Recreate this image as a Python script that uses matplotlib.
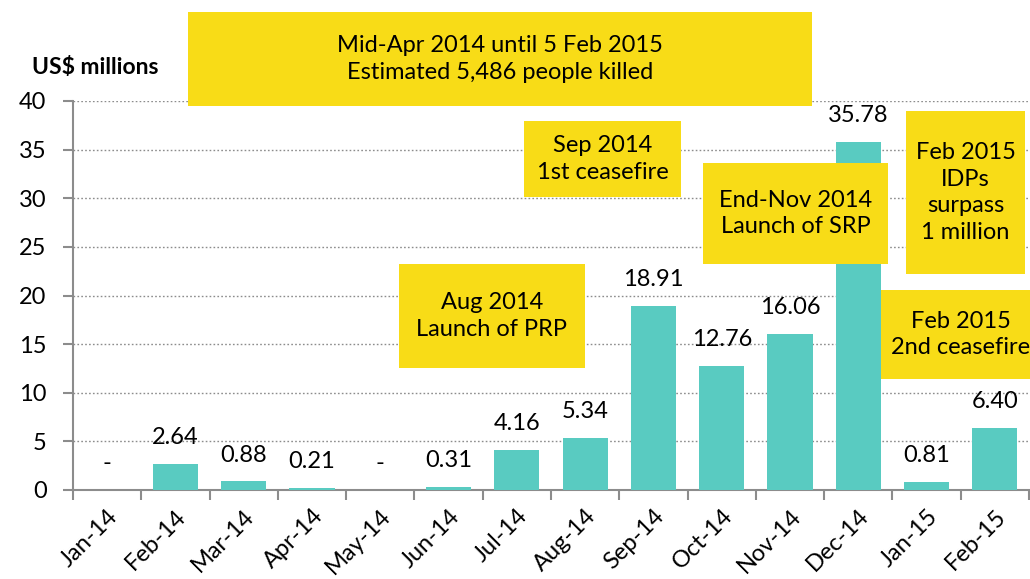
import matplotlib
matplotlib.use("Agg")
import matplotlib.pyplot as plt
from matplotlib.patches import Rectangle
import numpy as np

months = ["Jan-14", "Feb-14", "Mar-14", "Apr-14", "May-14", "Jun-14", "Jul-14",
          "Aug-14", "Sep-14", "Oct-14", "Nov-14", "Dec-14", "Jan-15", "Feb-15"]
values = [0, 2.64, 0.88, 0.21, 0, 0.31, 4.16, 5.34, 18.91, 12.76, 16.06, 35.78, 0.81, 6.40]
labels = ["-", "2.64", "0.88", "0.21", "-", "0.31", "4.16", "5.34", "18.91",
          "12.76", "16.06", "35.78", "0.81", "6.40"]
yticks = [0, 5, 10, 15, 20, 25, 30, 35, 40]

notes = [
    ("Mid-Apr 2014 until 5 Feb 2015\nEstimated 5,486 people killed", (188, 12, 812, 106)),
    ("Sep 2014\n1st ceasefire", (524, 121, 681, 197)),
    ("End-Nov 2014\nLaunch of SRP", (703, 163, 888, 264)),
    ("Feb 2015\nIDPs\nsurpass\n1 million", (906, 111, 1025, 274)),
    ("Aug 2014\nLaunch of PRP", (399, 264, 585, 368)),
    ("Feb 2015\n2nd ceasefire", (881, 290, 1040, 379)),
]

FONT = "Lato"
plt.rcParams["font.family"] = [FONT, "DejaVu Sans"]
FS = 17

W, H = 1030, 579
fig = plt.figure(figsize=(W / 100, H / 100), dpi=100)
ax = fig.add_axes([73 / W, 1 - 490 / H, (1029 - 73) / W, (490 - 101) / H])

x = np.arange(len(months))
ax.bar(x, values, width=0.66, color="#59CBC1", zorder=3)
ax.set_xlim(-0.5, len(months) - 0.5)
ax.set_ylim(0, 40)
ax.set_yticks(yticks)
ax.set_yticklabels([str(v) for v in yticks], fontsize=FS)
ax.yaxis.grid(True, linestyle=(0, (1.2, 1.6)), color="#8c8c8c", linewidth=1.0, zorder=0)
ax.tick_params(axis="y", length=7, width=1.5, color="#8c8c8c", pad=12)

ax.set_xticks(x)
ax.set_xticklabels(months, rotation=45, ha="right", va="top", rotation_mode="anchor", fontsize=FS)
ax.tick_params(axis="x", which="major", length=0, pad=11)
ax.set_xticks(np.arange(-0.5, len(months), 1), minor=True)
ax.tick_params(axis="x", which="minor", length=7, width=1.5, color="#8c8c8c")

for s in ["top", "right"]:
    ax.spines[s].set_visible(False)
for s in ["left", "bottom"]:
    ax.spines[s].set_color("#8c8c8c")
    ax.spines[s].set_linewidth(1.5)

for xi, v, lab in zip(x, values, labels):
    ax.annotate(lab, (xi, v), xytext=(0, 19), textcoords="offset points",
                ha="center", va="center", fontsize=FS, zorder=5)

fig.text(32 / W, 1 - 67 / H, "US$ millions", fontsize=16.5, fontweight="bold",
         ha="left", va="center")

for txt, (x0, y0, x1, y1) in notes:
    fig.patches.append(Rectangle((x0 / W, 1 - y1 / H), (x1 - x0) / W, (y1 - y0) / H,
                                 transform=fig.transFigure, facecolor="#F8DC17",
                                 edgecolor="none", zorder=10))
    fig.text((x0 + x1) / 2 / W, 1 - (y0 + y1) / 2 / H, txt, ha="center", va="center",
             fontsize=FS, linespacing=1.35, zorder=11)

fig.savefig("out.png", dpi=100)
